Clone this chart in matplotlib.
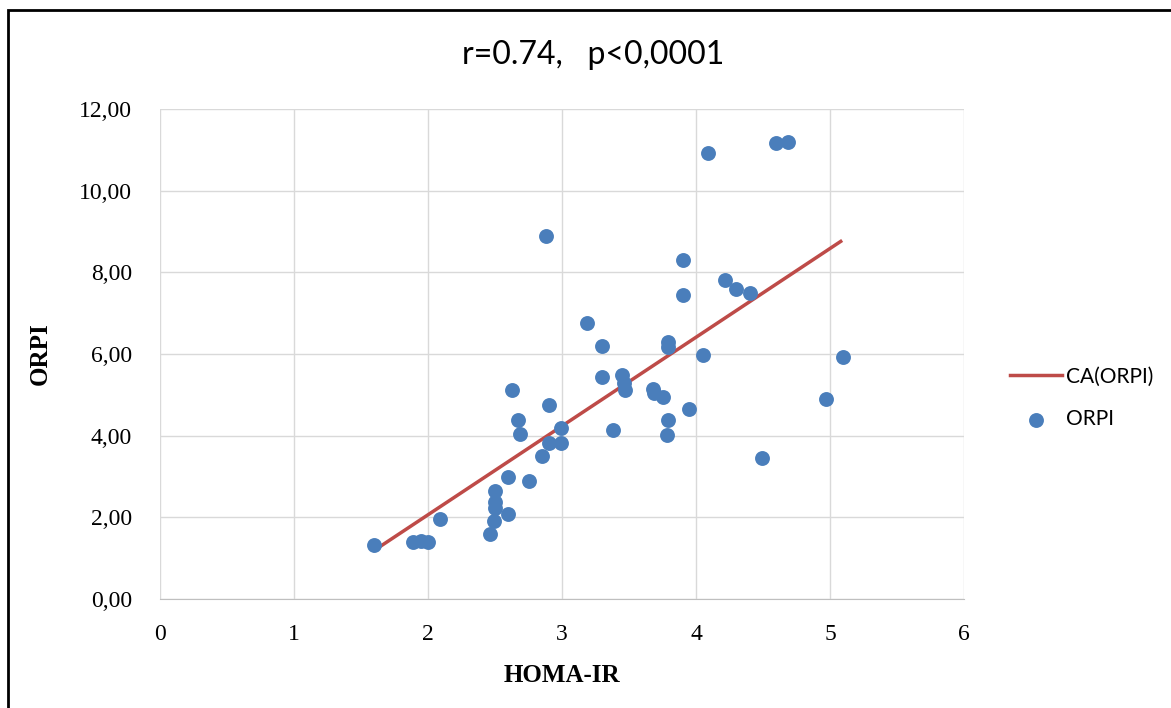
import numpy as np
import matplotlib.pyplot as plt
from matplotlib.patches import Rectangle

## data
homa = [1.60, 1.89, 1.95, 2.00, 2.09, 2.46, 2.49, 2.50, 2.50, 2.50,
        2.60, 2.60, 2.75, 2.63, 2.67, 2.69, 2.85, 2.90, 2.90, 2.88,
        2.99, 2.99, 3.19, 3.30, 3.30, 3.38, 3.45, 3.46, 3.47, 3.68,
        3.69, 3.75, 3.79, 3.79, 3.79, 3.78, 3.90, 3.90, 3.95, 4.05,
        4.09, 4.22, 4.30, 4.40, 4.49, 4.60, 4.69, 4.97, 5.10]
orpi = [1.32, 1.40, 1.42, 1.40, 1.96, 1.59, 1.91, 2.23, 2.38, 2.64,
        2.08, 2.99, 2.89, 5.12, 4.38, 4.04, 3.50, 3.82, 4.75, 8.89,
        4.19, 3.82, 6.76, 6.20, 5.44, 4.14, 5.49, 5.29, 5.12, 5.14,
        5.05, 4.95, 6.29, 6.17, 4.38, 4.02, 7.45, 8.30, 4.65, 5.98,
        10.92, 7.81, 7.59, 7.49, 3.45, 11.17, 11.19, 4.90, 5.93]
xticks = [0, 1, 2, 3, 4, 5, 6]
yticks = [0, 2, 4, 6, 8, 10, 12]
ytick_labels = ['0,00', '2,00', '4,00', '6,00', '8,00', '10,00', '12,00']

blue = '#4a7ebb'
red = '#be4b48'

fig = plt.figure(figsize=(11.71, 7.08), dpi=100)
ax = fig.add_axes([160 / 1171, 1 - 599 / 708, (964 - 160) / 1171, (599 - 109) / 708])

# linear trend line over the x range of the data
k, b = np.polyfit(homa, orpi, 1)
xs = np.array([min(homa), 5.08])
ax.plot(xs, k * xs + b, color=red, lw=2.5, label='CA(ORPI)', zorder=2)
ax.scatter(homa, orpi, s=115, color=blue, label='ORPI', zorder=3, linewidths=0)

ax.set_xlim(0, 6)
ax.set_ylim(0, 12)
ax.set_xticks(xticks)
ax.set_yticks(yticks)
ax.set_yticklabels(ytick_labels)
ax.grid(True, color='#d9d9d9', lw=1)
ax.set_axisbelow(True)
for s in ['left', 'top', 'right']:
    ax.spines[s].set_visible(False)
ax.spines['bottom'].set_color('#bfbfbf')
ax.tick_params(axis='x', length=0, labelsize=17, pad=18)
ax.tick_params(axis='y', length=0, labelsize=17, pad=20)
for lab in ax.get_xticklabels() + ax.get_yticklabels():
    lab.set_family('Liberation Serif')

ax.set_xlabel('HOMA-IR', fontsize=18, fontweight='bold', family='Liberation Serif', labelpad=14)
ax.set_ylabel('ORPI', fontsize=18, fontweight='bold', family='Liberation Serif', labelpad=20)

fig.text(593 / 1171, 1 - 55 / 708, 'r=0.74,   p<0,0001', ha='center', va='center',
         fontsize=23, family='Lato')

fig.legend(loc='center left', bbox_to_anchor=(1010 / 1171, 1 - 398 / 708), frameon=False,
           borderpad=0, borderaxespad=0,
           prop={'family': 'Lato', 'size': 15}, handlelength=2.5, labelspacing=1.1,
           handletextpad=0.2)

fig.add_artist(Rectangle((8 / 1171, -0.05), 1.1, 1 - 10 / 708 + 0.05, transform=fig.transFigure,
                         fill=False, ec='black', lw=2))

fig.savefig('out.png', dpi=100)
